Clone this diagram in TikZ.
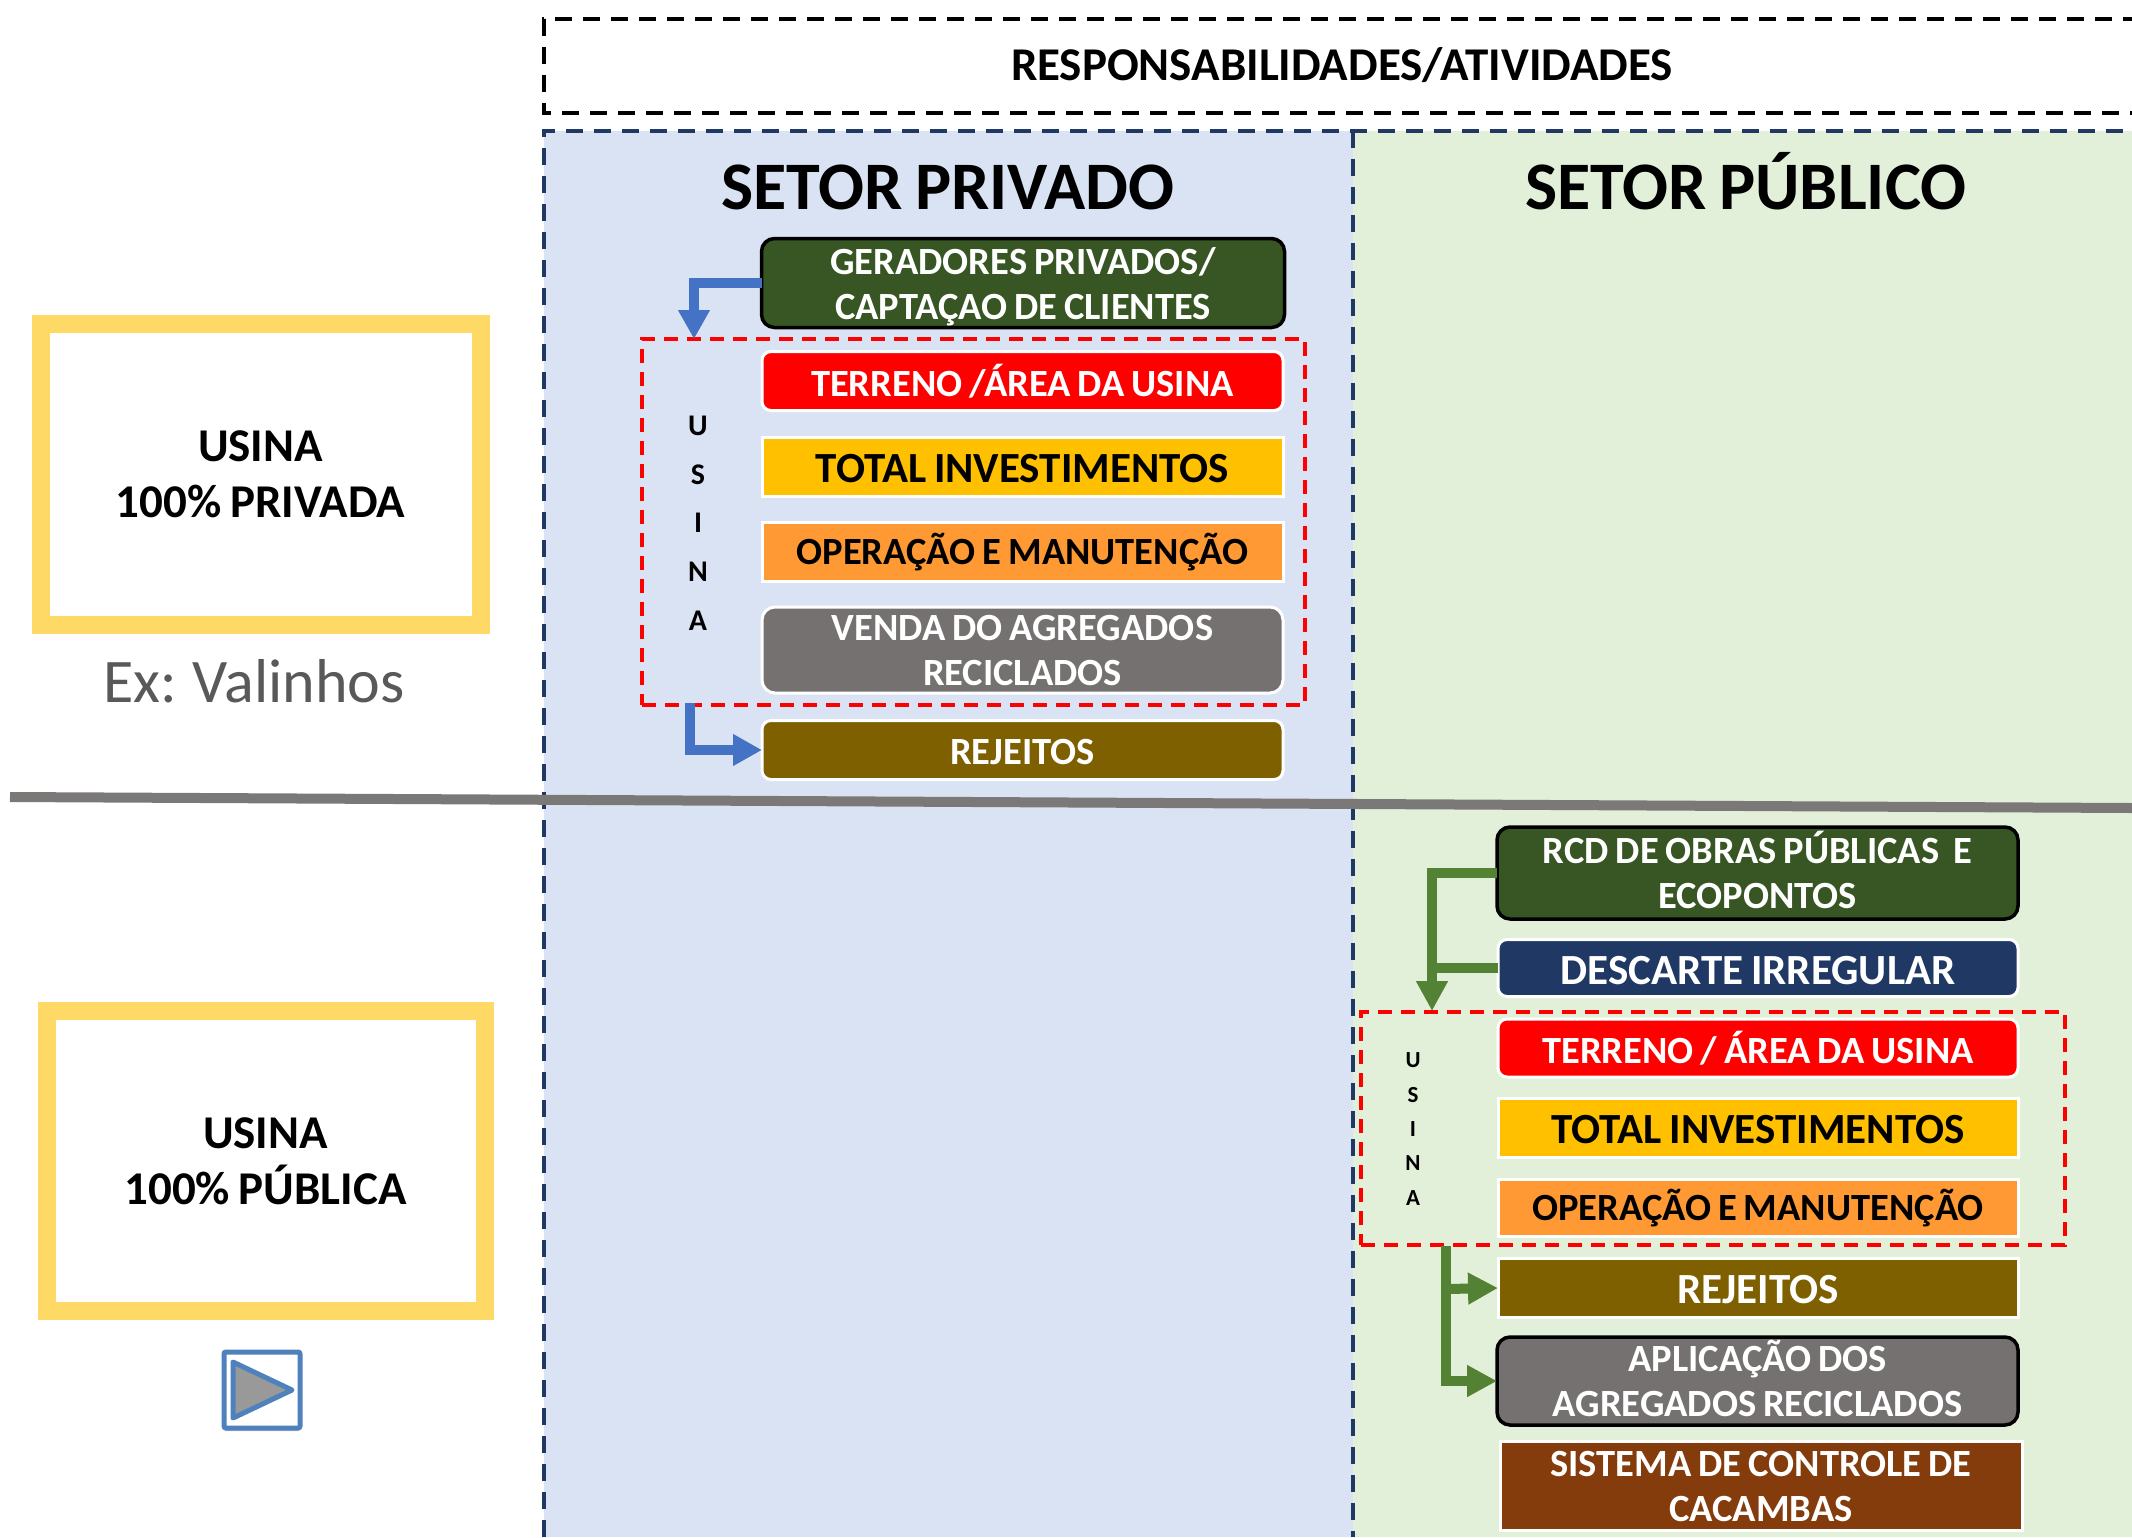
\documentclass[tikz,border=0pt]{standalone}
\usepackage{fontspec}
\setmainfont{Carlito}[WordSpace=0.8]
\usetikzlibrary{arrows.meta,shadows}
\definecolor{cgreen}{HTML}{375623}
\definecolor{cyellow}{HTML}{FFC000}
\definecolor{corange}{HTML}{FF9933}
\definecolor{cgrey}{HTML}{767171}
\definecolor{colive}{HTML}{7F6000}
\definecolor{cnavy}{HTML}{1F3864}
\definecolor{cbrown}{HTML}{843C0C}
\definecolor{cblue}{HTML}{4472C4}
\definecolor{carrow}{HTML}{548235}
\definecolor{cpanelb}{HTML}{DAE3F3}
\definecolor{cpanelg}{HTML}{E2F0D9}
\definecolor{cframe}{HTML}{FFD966}
\definecolor{cline}{HTML}{7B7878}
\definecolor{cbtn}{HTML}{4F81BD}
\definecolor{cex}{HTML}{595959}
\tikzset{
  x=1pt,y=-1pt,
  basebox/.style={inner sep=0pt,outer sep=0pt,align=flush center,text width=505pt,font=\fontsize{38.5}{45}\bfseries\selectfont},
  bigtext/.style={font=\fontsize{43}{45}\bfseries\selectfont},
  whitebox/.style={basebox,draw=white,line width=3pt},
  blackbox/.style={basebox,draw=black,line width=3.5pt,rounded corners=13pt,text=white},
  softbox/.style={whitebox,rounded corners=9pt,text=white},
  sharpbox/.style={whitebox},
  frame/.style={draw=cframe,line width=18pt,fill=white,inner sep=0pt,outer sep=0pt,align=center,font=\fontsize{47}{56}\bfseries\selectfont},
  usinabox/.style={draw=red,line width=3.5pt,dash pattern=on 14pt off 9pt},
  usinatext/.style={inner sep=0pt,align=center,font=\fontsize{30}{48.7}\bfseries\selectfont},
  usinatextsmall/.style={inner sep=0pt,align=center,font=\fontsize{23}{34.3}\bfseries\selectfont},
  panelhead/.style={inner sep=0pt,anchor=base,font=\fontsize{68}{70}\bfseries\selectfont},
  bluearrow/.style={draw=cblue,line width=10pt,line join=miter,-{Triangle[width=30pt,length=29pt]}},
  greenarrow/.style={draw=carrow,line width=10pt,line join=miter,-{Triangle[width=30pt,length=30pt]}},
  greenline/.style={draw=carrow,line width=10pt,line join=miter},
  paneledge/.style={draw=cnavy,line width=3.5pt,dash pattern=on 17pt off 11pt},
}
\begin{document}
\begin{tikzpicture}
\useasboundingbox (0,0) rectangle (2132,1537);
\clip (0,0) rectangle (2132,1537);
\fill[white] (0,0) rectangle (2132,1537);
% panels
\fill[cpanelb] (544,131) rectangle (1353,1537);
\fill[cpanelg] (1353,131) rectangle (2132,1537);
\draw[paneledge] (544,1537) -- (544,131) -- (2140,131);
\draw[paneledge] (1353,131) -- (1353,1537);
% title
\draw[black,line width=3.5pt,dash pattern=on 17pt off 11pt] (2140,19) -- (544,19) -- (544,113) -- (2140,113);
\node[inner sep=0pt,font=\fontsize{47}{50}\bfseries\selectfont] (title) at (1342,65) {RESPONSABILIDADES/ATIVIDADES};
\node[panelhead] (hpriv) at (948,209) {SETOR PRIVADO};
\node[panelhead] (hpub) at (1746,209) {SETOR PÚBLICO};
% divider
\draw[cline,line width=10pt] (10,797) -- (2132,808);
% left frames
\node[frame,minimum width=440pt,minimum height=301pt] (f1) at (260.5,474) {USINA\\100\% PRIVADA};
\node[inner sep=0pt,text=cex,font=\fontsize{62}{64}\selectfont] (ex) at (254,681) {Ex: Valinhos};
\node[frame,minimum width=438pt,minimum height=300pt] (f2) at (265.5,1161) {USINA\\100\% PÚBLICA};
% play button
\node[draw=cbtn,fill=white,line width=5pt,rounded corners=2pt,minimum width=76pt,minimum height=76pt,inner sep=0pt,outer sep=0pt,drop shadow={shadow xshift=0pt,shadow yshift=-3pt,opacity=.4}] (play) at (262,1390) {};
\draw[draw=cbtn,fill=black!40,line width=5pt,line join=round] (233,1362) -- (292,1390) -- (233,1418) -- cycle;
% private column
\node[usinabox,minimum width=663pt,minimum height=366pt,inner sep=0pt,outer sep=0pt] (u1) at (973.5,522) {};
\node[usinatext] (u1t) at (698,523) {U\\S\\I\\N\\A};
\node[blackbox,fill=cgreen,minimum width=523pt,minimum height=89pt] (a1) at (1023,283) {\rule{0pt}{34pt}GERADORES PRIVADOS/\\CAPTAÇAO DE CLIENTES};
\node[softbox,fill=red,minimum width=521pt,minimum height=59pt] (a2) at (1022.5,381) {TERRENO /ÁREA DA USINA};
\node[sharpbox,fill=cyellow,bigtext,minimum width=521pt,minimum height=59pt] (a3) at (1022.5,467) {\rule{0pt}{31pt}TOTAL INVESTIMENTOS};
\node[sharpbox,fill=corange,minimum width=521pt,minimum height=59pt] (a4) at (1022.5,552) {OPERAÇÃO E MANUTENÇÃO};
\node[softbox,fill=cgrey,rounded corners=13pt,minimum width=521pt,minimum height=86pt] (a5) at (1022.5,650) {VENDA DO AGREGADOS\\RECICLADOS};
\node[softbox,fill=colive,minimum width=521pt,minimum height=59pt] (a6) at (1022.5,750) {\rule{0pt}{30pt}REJEITOS};
\coordinate (t1) at (694,339);
\coordinate (s1) at (690,703);
\draw[bluearrow] (a1.west) -| (t1);
\draw[bluearrow] (s1) |- (a6.west);
% public column
\node[usinabox,minimum width=704pt,minimum height=233pt,inner sep=0pt,outer sep=0pt] (u2) at (1713,1128.5) {};
\node[usinatextsmall] (u2t) at (1413,1129) {U\\S\\I\\N\\A};
\node[blackbox,fill=cgreen,minimum width=521pt,minimum height=92pt] (b1) at (1757.5,873) {RCD DE OBRAS PÚBLICAS\ \ E\\\rule[-6pt]{0pt}{0pt}ECOPONTOS};
\node[softbox,bigtext,fill=cnavy,minimum width=520pt,minimum height=57pt] (b2) at (1758,968) {\rule{0pt}{33pt}DESCARTE IRREGULAR};
\node[softbox,fill=red,minimum width=520pt,minimum height=58pt] (b3) at (1758,1048) {TERRENO / ÁREA DA USINA};
\node[sharpbox,bigtext,fill=cyellow,minimum width=520pt,minimum height=59pt] (b4) at (1758,1128) {\rule{0pt}{31pt}TOTAL INVESTIMENTOS};
\node[sharpbox,fill=corange,minimum width=520pt,minimum height=57pt] (b5) at (1758,1208) {OPERAÇÃO E MANUTENÇÃO};
\node[sharpbox,bigtext,fill=colive,text=white,minimum width=520pt,minimum height=59pt] (b6) at (1758,1288) {\rule{0pt}{31pt}REJEITOS};
\node[blackbox,fill=cgrey,minimum width=521pt,minimum height=88pt] (b7) at (1757.5,1381) {APLICAÇÃO DOS\\\rule[-6pt]{0pt}{0pt}AGREGADOS RECICLADOS};
\node[sharpbox,fill=cbrown,text=white,minimum width=522pt,minimum height=89pt] (b8) at (1761,1486) {SISTEMA DE CONTROLE DE\\CACAMBAS};
\coordinate (t2) at (1432,1011);
\coordinate (s2) at (1446,1246);
\coordinate (j2) at (1446,1289);
\draw[greenline] (b2.west) -- (1432,968);
\draw[greenarrow] (b1.west) -| (t2);
\draw[greenarrow] (s2) |- (b7.west);
\draw[greenarrow] (j2) -- (b6.west);
\end{tikzpicture}
\end{document}
